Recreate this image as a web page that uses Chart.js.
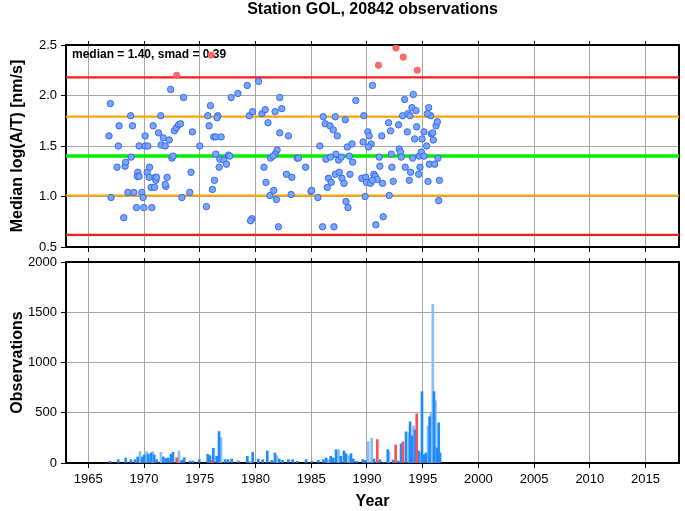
<!DOCTYPE html>
<html>
<head>
<meta charset="utf-8">
<script src="https://cdn.jsdelivr.net/npm/chart.js@4.4.1/dist/chart.umd.min.js"></script>
<style>
    body { margin: 0; background: #fff; }
    canvas { position: absolute; left: 0; display: block; }
    #chart-median { top: 0; }
    #chart-obs { top: 254px; }
</style>
</head>
<body>
<canvas id="chart-median" width="685" height="254"></canvas>
<canvas id="chart-obs" width="685" height="257"></canvas>
<script>
// station summary
const stationName = "GOL";
const totalObs = 20842;
const median = 1.40;
const smad = 0.39;

// axis tick labels
const yearTicks = [1965, 1970, 1975, 1980, 1985, 1990, 1995, 2000, 2005, 2010, 2015];
const medianTicks = [0.5, 1.0, 1.5, 2.0, 2.5];
const obsTicks = [0, 500, 1000, 1500, 2000];

// monthly medians, log(A/T)
const pointYears = [
    1966.98, 1966.86, 1967.04, 1968.18, 1967.70, 1967.58, 1967.76, 1968.30, 1968.36, 1968.84,
    1968.80, 1968.97, 1968.55, 1969.08, 1969.32, 1969.44, 1969.40, 1969.56, 1969.80, 1969.92,
    1969.98, 1969.56, 1970.10, 1970.10, 1970.34, 1970.28, 1970.46, 1970.50, 1970.70, 1970.64,
    1970.82, 1970.94, 1971.00, 1971.06, 1971.12, 1971.50, 1971.30, 1971.54, 1971.73, 1971.90,
    1971.96, 1971.90, 1972.08, 1972.26, 1972.50, 1972.60, 1972.72, 1972.90, 1973.10, 1973.28,
    1972.39, 1973.55, 1973.40, 1974.34, 1974.22, 1974.10, 1975.00, 1975.60, 1976.14, 1976.32,
    1975.96, 1975.72, 1975.84, 1976.26, 1976.44, 1976.92, 1976.44, 1976.80, 1976.74, 1977.16,
    1977.40, 1977.58, 1977.70, 1976.62, 1976.56, 1977.82, 1978.42, 1979.26, 1980.28, 1979.68,
    1979.56, 1979.44, 1979.74, 1980.58, 1980.88, 1981.12, 1980.76, 1980.94, 1981.30, 1981.35,
    1982.18, 1982.36, 1981.76, 1982.18, 1982.96, 1981.94, 1981.76, 1981.58, 1982.78, 1983.26,
    1981.64, 1981.88, 1982.06, 1983.20, 1983.74, 1983.86, 1984.50, 1984.98, 1985.04, 1985.60,
    1986.02, 1987.04, 1985.78, 1986.08, 1986.26, 1986.68, 1986.98, 1987.16, 1988.06, 1987.34,
    1986.32, 1986.74, 1987.22, 1987.46, 1987.70, 1986.56, 1986.44, 1986.80, 1987.16, 1987.52,
    1987.76, 1987.94, 1988.24, 1988.66, 1988.42, 1988.72, 1988.48, 1988.12, 1988.30, 1989.00,
    1990.50, 1989.72, 1990.08, 1990.20, 1989.66, 1990.38, 1990.14, 1991.10, 1991.16, 1989.54,
    1989.90, 1989.96, 1990.32, 1990.62, 1990.74, 1990.92, 1990.50, 1991.40, 1989.84, 1992.00,
    1991.46, 1990.80, 1991.33, 1991.94, 1992.12, 1992.18, 1992.24, 1992.36, 1992.84, 1992.90,
    1993.02, 1993.08, 1993.20, 1993.38, 1993.62, 1993.68, 1993.86, 1994.04, 1994.16, 1994.40,
    1993.44, 1993.80, 1993.92, 1994.10, 1994.28, 1994.46, 1994.64, 1994.76, 1994.70, 1994.88,
    1995.12, 1994.94, 1995.12, 1995.36, 1995.48, 1995.60, 1995.72, 1995.42, 1995.54, 1995.78,
    1995.90, 1995.96, 1996.08, 1996.20, 1996.32, 1996.38, 1996.50, 1996.44
];
const pointValues = [
    1.92, 1.60, 0.99, 0.79, 1.50, 1.29, 1.70, 1.30, 1.34, 1.39,
    1.80, 1.70, 1.04, 1.04, 0.89, 1.24, 1.20, 1.20, 1.04, 0.99,
    0.89, 1.50, 1.60, 1.50, 1.50, 1.24, 1.19, 1.29, 0.89, 1.09,
    1.70, 1.09, 1.19, 1.16, 1.19, 1.80, 1.63, 1.51, 1.58, 1.50,
    1.10, 1.12, 1.19, 1.56, 1.38, 1.40, 1.65, 1.68, 1.71, 1.72,
    2.06, 1.98, 0.99, 1.64, 1.24, 1.04, 1.50, 0.90, 1.07, 1.16,
    1.90, 1.80, 1.70, 1.59, 1.59, 1.59, 1.42, 1.37, 1.29, 1.36,
    1.32, 1.41, 1.40, 1.80, 1.78, 1.98, 2.02, 2.10, 2.14, 0.78,
    0.76, 1.80, 1.84, 1.82, 1.86, 1.73, 1.29, 1.14, 1.01, 1.38,
    1.98, 1.87, 1.84, 1.63, 1.60, 1.46, 1.42, 1.40, 1.22, 1.19,
    1.06, 0.97, 0.70, 1.02, 1.38, 1.38, 1.29, 1.05, 1.06, 0.99,
    0.70, 0.70, 1.50, 1.79, 1.72, 1.70, 1.66, 1.79, 1.76, 1.60,
    1.37, 1.39, 1.42, 1.36, 1.39, 1.18, 1.09, 1.14, 1.22, 1.24,
    1.18, 1.13, 1.49, 1.52, 1.40, 1.34, 1.22, 0.95, 0.89, 1.95,
    2.10, 1.80, 1.64, 1.60, 1.54, 1.52, 1.49, 1.39, 1.30, 1.18,
    1.19, 1.14, 1.13, 1.22, 1.20, 1.17, 1.16, 1.13, 1.00, 1.01,
    0.80, 0.72, 1.60, 1.73, 1.65, 1.42, 1.29, 1.15, 1.71, 1.47,
    1.44, 1.39, 1.80, 1.96, 1.64, 1.82, 1.80, 1.88, 2.01, 1.85,
    1.29, 1.16, 1.24, 1.38, 1.57, 1.69, 1.22, 1.29, 1.40, 1.44,
    1.64, 1.57, 1.40, 1.50, 1.15, 1.32, 1.80, 1.82, 1.88, 1.62,
    1.63, 1.56, 1.32, 1.70, 1.74, 1.38, 1.16, 0.96
];

// months beyond median + 2 smad
const outlierYears = [1972.93, 1976.02, 1991.04, 1992.60, 1993.26, 1994.52];
const outlierValues = [2.20, 2.40, 2.30, 2.47, 2.38, 2.25];

// observations per month
const darkYears = [
    1966.95, 1967.69, 1968.36, 1968.83, 1969.19, 1969.43, 1969.85, 1970.03, 1970.38, 1970.63,
    1970.92, 1971.14, 1971.73, 1971.95, 1972.18, 1972.42, 1972.60, 1973.38, 1973.61, 1974.13,
    1974.40, 1974.96, 1975.71, 1975.92, 1976.22, 1976.52, 1976.73, 1977.27, 1977.54, 1977.87,
    1978.46, 1979.27, 1979.75, 1980.25, 1980.65, 1981.06, 1981.46, 1981.75, 1982.14, 1982.44,
    1982.95, 1983.34, 1983.75, 1984.53, 1985.05, 1985.64, 1986.09, 1986.33, 1986.75, 1986.98,
    1987.23, 1987.65, 1987.94, 1988.12, 1988.57, 1988.78, 1989.08, 1989.62, 1989.83, 1990.64,
    1991.17, 1991.53, 1991.87, 1992.34, 1992.79, 1993.06, 1993.51, 1993.87, 1994.05, 1994.31,
    1994.63, 1994.94, 1995.12, 1995.30, 1995.62, 1996.02, 1996.29, 1996.44, 1996.56
];
const darkCounts = [
    16, 33, 50, 33, 33, 60, 60, 80, 87, 100,
    80, 33, 60, 46, 50, 87, 106, 27, 53, 20,
    20, 33, 87, 73, 147, 67, 313, 33, 33, 40,
    20, 67, 106, 40, 33, 120, 27, 100, 40, 27,
    33, 33, 17, 33, 17, 27, 33, 50, 67, 50,
    133, 67, 120, 93, 93, 40, 17, 33, 27, 40,
    33, 6, 133, 30, 20, 190, 310, 410, 270, 330,
    120, 710, 80, 100, 460, 710, 150, 400, 100
];
const lightYears = [
    1969.64, 1970.24, 1970.78, 1971.52, 1973.14, 1976.91, 1979.51, 1981.91, 1986.54, 1987.47,
    1988.37, 1990.12, 1990.43, 1991.98, 1993.78, 1994.18, 1994.76, 1995.48, 1995.75, 1995.91,
    1996.14
];
const lightCounts = [
    113, 113, 113, 106, 120, 253, 17, 73, 33, 133,
    73, 213, 247, 115, 300, 370, 100, 370, 500, 1580,
    620
];
const redYears = [1972.93, 1976.10, 1990.93, 1992.58, 1993.24, 1994.47];
const redCounts = [53, 27, 233, 180, 210, 490];

const FONT = "'Liberation Sans', Arial, Helvetica, sans-serif";
const X_MIN = 1963, X_MAX = 2018;
const Y_MIN = medianTicks[0], Y_MAX = medianTicks[medianTicks.length - 1];

const pairs = (xs, ys) => xs.map((x, i) => ({ x: x, y: ys[i] }));
const fixedTicks = list => s => { s.ticks = list.map(v => ({ value: v })); };
const noLabel = () => '';
// fixed box sizes, no extra room for overhanging tick labels
const fixHeight = h => s => { s.height = h; s.paddingLeft = 0; s.paddingRight = 0; };
const fixWidth = w => s => { s.width = w; s.paddingTop = 0; s.paddingBottom = 0; };

function hline(y, color, width) {
    return {
        type: 'line',
        data: [{ x: X_MIN, y: y }, { x: X_MAX, y: y }],
        borderColor: color,
        borderWidth: width,
        pointRadius: 0,
        order: 3
    };
}

function xAxis(height, extra) {
    return Object.assign({
        type: 'linear', min: X_MIN, max: X_MAX, offset: false,
        ticks: { callback: noLabel, autoSkip: false, maxRotation: 0 },
        afterBuildTicks: fixedTicks(yearTicks),
        grid: { color: '#a6a6a6', tickColor: '#000', tickLength: 5, offset: false },
        border: { color: '#000', width: 2 },
        afterFit: fixHeight(height)
    }, extra);
}

function topAxis(height, title) {
    return {
        type: 'linear', position: 'top', min: X_MIN, max: X_MAX, offset: false,
        ticks: { callback: noLabel, autoSkip: false, maxRotation: 0 },
        afterBuildTicks: fixedTicks(yearTicks),
        grid: { drawOnChartArea: false, tickColor: '#000', tickLength: 4, offset: false },
        border: { color: '#000', width: 2 },
        title: title ? {
            display: true, text: title, color: '#000',
            font: { family: FONT, size: 16, weight: 'bold' },
            padding: { top: 0, bottom: 0 }
        } : { display: false },
        afterFit: fixHeight(height)
    };
}

function rightAxis(min, max) {
    return {
        type: 'linear', position: 'right', min: min, max: max,
        ticks: { display: false },
        grid: { drawOnChartArea: false, drawTicks: false },
        border: { color: '#000', width: 2 },
        afterFit: fixWidth(6)
    };
}

function yAxis(min, max, ticks, title, fmt) {
    return {
        type: 'linear', min: min, max: max,
        afterBuildTicks: fixedTicks(ticks),
        ticks: { color: '#000', padding: 4, font: { family: FONT, size: 13 }, callback: fmt },
        grid: { color: '#a6a6a6', tickColor: '#000', tickLength: 5 },
        border: { color: '#000', width: 2 },
        title: {
            display: true, text: title, color: '#000',
            font: { family: FONT, size: 16, weight: 'bold' },
            padding: { top: 8, bottom: 0 }
        },
        afterFit: fixWidth(66)
    };
}

// median / smad note in the top left corner
const statsLabel = {
    id: 'statsLabel',
    beforeDatasetsDraw(chart) {
        const { ctx, chartArea } = chart;
        ctx.save();
        ctx.font = 'bold 12px ' + FONT;
        ctx.fillStyle = '#000';
        ctx.textBaseline = 'middle';
        ctx.fillText('median = ' + median.toFixed(2) + ', smad = ' + smad.toFixed(2),
            chartArea.left + 6, chartArea.top + 10);
        ctx.restore();
    }
};

// grid of the median panel, slid in behind what is already drawn
const medianGrid = {
    id: 'medianGrid',
    afterDraw(chart) {
        const { ctx, chartArea: a, scales } = chart;
        ctx.save();
        ctx.globalCompositeOperation = 'destination-over';
        ctx.strokeStyle = '#a6a6a6';
        ctx.lineWidth = 1;
        ctx.beginPath();
        yearTicks.forEach(yr => {
            const x = Math.floor(scales.x.getPixelForValue(yr)) + 0.5;
            ctx.moveTo(x, a.top);
            ctx.lineTo(x, a.bottom);
        });
        medianTicks.slice(1, -1).forEach(v => {
            const y = Math.floor(scales.y.getPixelForValue(v)) + 0.5;
            ctx.moveTo(a.left, y);
            ctx.lineTo(a.right, y);
        });
        ctx.stroke();
        ctx.restore();
    }
};

Chart.defaults.font.family = FONT;
Chart.defaults.animation = false;

new Chart(document.getElementById('chart-median'), {
    type: 'scatter',
    data: {
        datasets: [
            {
                data: pairs(outlierYears, outlierValues),
                backgroundColor: '#ff6a6a', borderColor: '#ff5050', borderWidth: 0.5,
                pointRadius: 3.3, order: 1
            },
            {
                data: pairs(pointYears, pointValues),
                backgroundColor: '#77a6ff', borderColor: '#3a68f0', borderWidth: 1,
                pointRadius: 3.2, order: 2
            },
            hline(median, '#00ee00', 3.5),
            hline(median + smad, '#ffa500', 2.2),
            hline(median - smad, '#ffa500', 2.2),
            hline(median + 2 * smad, '#ff1a1a', 2.2),
            hline(median - 2 * smad, '#ff1a1a', 2.2)
        ]
    },
    options: {
        responsive: false, devicePixelRatio: 1,
        layout: { padding: 0 },
        plugins: { legend: { display: false }, tooltip: { enabled: false } },
        scales: {
            x: xAxis(7),
            x2: topAxis(45, 'Station ' + stationName + ', ' + totalObs + ' observations'),
            y: yAxis(Y_MIN, Y_MAX, medianTicks, 'Median log(A/T) [nm/s]', v => v.toFixed(1)),
            y2: rightAxis(Y_MIN, Y_MAX)
        }
    },
    plugins: [statsLabel, medianGrid]
});

new Chart(document.getElementById('chart-obs'), {
    type: 'bar',
    data: {
        datasets: [
            { data: pairs(redYears, redCounts), backgroundColor: '#ff5050', order: 1 },
            { data: pairs(darkYears, darkCounts), backgroundColor: '#1e8cff', order: 2 },
            { data: pairs(lightYears, lightCounts), backgroundColor: '#86bdff', order: 3 }
        ]
    },
    options: {
        responsive: false, devicePixelRatio: 1,
        layout: { padding: 0 },
        datasets: { bar: { barThickness: 2, grouped: false } },
        plugins: { legend: { display: false }, tooltip: { enabled: false } },
        scales: {
            x: xAxis(48, {
                ticks: {
                    color: '#000', padding: 4, font: { family: FONT, size: 13 },
                    maxRotation: 0, autoSkip: false, callback: v => String(v)
                },
                title: {
                    display: true, text: 'Year', color: '#000',
                    font: { family: FONT, size: 16, weight: 'bold' },
                    padding: { top: 0, bottom: 0 }
                }
            }),
            x2: topAxis(8),
            y: yAxis(0, 2000, obsTicks, 'Observations', v => String(v)),
            y2: rightAxis(0, 2000)
        }
    }
});
</script>
</body>
</html>
